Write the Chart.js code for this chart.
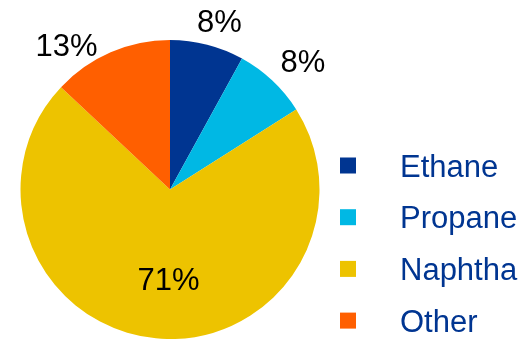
<!DOCTYPE html>
<html>
<head>
<meta charset="utf-8">
<script src="https://cdn.jsdelivr.net/npm/chart.js@4"></script>
<style>
  html, body { margin: 0; padding: 0; background: #fff; }
  #wrap { width: 525px; height: 339px; position: relative; }
</style>
</head>
<body>
<div id="wrap"><canvas id="feedstock"></canvas></div>
<script>
const labels = ["Ethane", "Propane", "Naphtha", "Other"];
const shares = [8, 8, 71, 13];
const colors = ["#003591", "#00b8e4", "#edc300", "#ff5f00"];

const FONT = "31px 'Liberation Sans', Arial, sans-serif";

// percent labels: outside for the small slices, inside for the big one
const pctLabels = {
    id: "pctLabels",
    afterDatasetsDraw(chart, args, opts) {
        let ctx = chart.ctx;
        let arcs = chart.getDatasetMeta(0).data;
        ctx.save();
        ctx.font = FONT;
        ctx.fillStyle = "#000";
        ctx.textAlign = "center";
        ctx.textBaseline = "alphabetic";
        arcs.forEach((arc, i) => {
            let { x, y, startAngle, endAngle, outerRadius } = arc.getProps(["x", "y", "startAngle", "endAngle", "outerRadius"], true);
            let mid = (startAngle + endAngle) / 2;
            let d = opts.dist[i] * outerRadius;
            let [nx, ny] = opts.nudge[i];
            let lx = x + Math.cos(mid) * d + nx;
            let ly = y + Math.sin(mid) * d + ny;
            ctx.fillText(shares[i] + "%", lx, ly + 11);
        });
        ctx.restore();
    },
};

// legend on the right: square swatch, then the name in dark blue
const sideLegend = {
    id: "sideLegend",
    afterDraw(chart, args, opts) {
        let ctx = chart.ctx;
        ctx.save();
        ctx.font = FONT;
        ctx.textAlign = "left";
        ctx.textBaseline = "alphabetic";
        chart.data.labels.forEach((name, i) => {
            let cy = opts.top + i * opts.step;
            ctx.fillStyle = colors[i];
            ctx.fillRect(opts.boxX, cy - 8, 16, 16);
            ctx.fillStyle = "#003591";
            ctx.fillText(name, opts.textX, cy + 11);
        });
        ctx.restore();
    },
};

new Chart(document.getElementById("feedstock"), {
    type: "pie",
    data: {
        labels: labels,
        datasets: [
            {
                data: shares,
                backgroundColor: colors,
                borderWidth: 0,
            },
        ],
    },
    options: {
        responsive: true,
        maintainAspectRatio: false,
        animation: false,
        layout: { padding: { left: 20, right: 205, top: 40, bottom: 0 } },
        plugins: {
            legend: { display: false },
            tooltip: { enabled: false },
            pctLabels: {
                dist: [1.17, 1.2, 0.6, 1.17],
                nudge: [[6, 1], [10, 2], [7, 0], [-34, 16]],
            },
            sideLegend: { boxX: 340, textX: 400, top: 165.5, step: 51.7 },
        },
    },
    plugins: [pctLabels, sideLegend],
});
</script>
</body>
</html>
